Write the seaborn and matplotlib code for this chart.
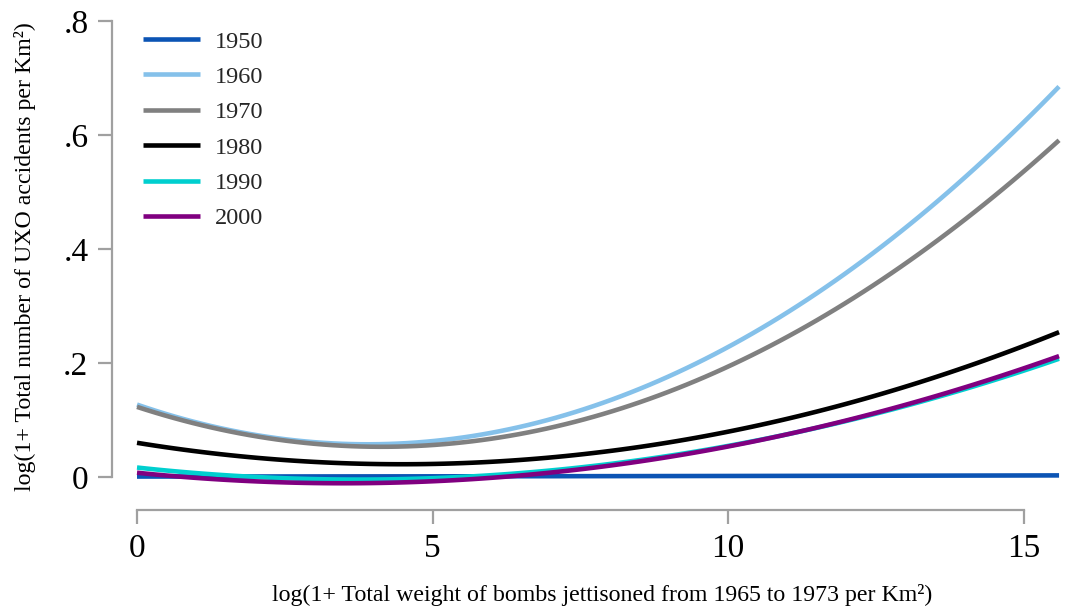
import matplotlib
matplotlib.use("Agg")
import matplotlib.pyplot as plt
import seaborn as sns
import pandas as pd

# Bombing intensity (log scale) at which the fitted accident rates are read
bomb_weight = [0, 2, 4, 6, 8, 10, 12, 14, 15.6]

# Fitted log(1 + UXO accidents per km²) for each decade
acc_1950 = [0.0008, 0.0009, 0.0011, 0.0013, 0.0015, 0.0018, 0.0021, 0.0025, 0.0028]
acc_1960 = [0.127, 0.0739, 0.0574, 0.0776, 0.1345, 0.2280, 0.3582, 0.5251, 0.6849]
acc_1970 = [0.123, 0.0717, 0.0531, 0.0672, 0.1141, 0.1937, 0.3060, 0.4511, 0.5907]
acc_1980 = [0.060, 0.0339, 0.0228, 0.0267, 0.0456, 0.0795, 0.1284, 0.1922, 0.2541]
acc_1990 = [0.0165, 0.0001, -0.0043, 0.0033, 0.0229, 0.0545, 0.0981, 0.1537, 0.2078]
acc_2000 = [0.0075, -0.0076, -0.0106, -0.0014, 0.0200, 0.0535, 0.0992, 0.1570, 0.2121]

decades = ["1950", "1960", "1970", "1980", "1990", "2000"]
series = [acc_1950, acc_1960, acc_1970, acc_1980, acc_1990, acc_2000]
colors = ["#0b54b4", "#85c1ea", "#808080", "#000000", "#00cfcf", "#800080"]

x_ticks = [0, 5, 10, 15]
x_tick_labels = ["0", "5", "10", "15"]
y_ticks = [0, 0.2, 0.4, 0.6, 0.8]
y_tick_labels = ["0", ".2", ".4", ".6", ".8"]

sns.set_theme(style="white")
plt.rcParams["font.family"] = ["Liberation Serif", "DejaVu Serif"]

fig = plt.figure(figsize=(10.67, 6.10), dpi=100)
ax = fig.add_axes([0.10497, 0.16393, 0.89035, 0.81148])

for label, vals, col in zip(decades, series, colors):
    df = pd.DataFrame({"x": bomb_weight, "y": vals})
    sns.regplot(data=df, x="x", y="y", order=2, ci=None, scatter=False,
                truncate=True, color=col, label=label,
                line_kws=dict(lw=3.3, solid_capstyle="butt"), ax=ax)

ax.set_xlim(-0.423, 15.65)
ax.set_ylim(-0.0579, 0.8105)

ax.set_xticks(x_ticks)
ax.set_xticklabels(x_tick_labels)
ax.set_yticks(y_ticks)
ax.set_yticklabels(y_tick_labels)

axis_grey = "#a0a0a0"
for side in ["top", "right"]:
    ax.spines[side].set_visible(False)
for side in ["left", "bottom"]:
    ax.spines[side].set_color(axis_grey)
    ax.spines[side].set_linewidth(1.6)
ax.spines["left"].set_bounds(0, 0.8)
ax.spines["bottom"].set_bounds(0, 15)

ax.tick_params(axis="both", which="major", length=10, width=1.6,
               color=axis_grey, labelsize=24, labelcolor="black",
               left=True, bottom=True)
ax.tick_params(axis="y", pad=7)
ax.tick_params(axis="x", pad=7)

ax.set_xlabel("log(1+ Total weight of bombs jettisoned from 1965 to 1973 per Km²)",
              fontsize=17.2, color="black", va="center")
ax.set_ylabel("log(1+ Total number of UXO accidents per Km²)",
              fontsize=17.2, color="black", va="center")
ax.xaxis.set_label_coords(0.516, -0.1717)
ax.yaxis.set_label_coords(-0.092, 0.512)

leg = ax.legend(loc="upper left", bbox_to_anchor=(0.134, 0.950),
                bbox_transform=fig.transFigure, frameon=False,
                fontsize=17.5, handlelength=2.35, handletextpad=0.62,
                labelspacing=0.55, borderpad=0, borderaxespad=0)
for line in leg.get_lines():
    line.set_linewidth(3.3)

fig.savefig("out.png", dpi=100)
